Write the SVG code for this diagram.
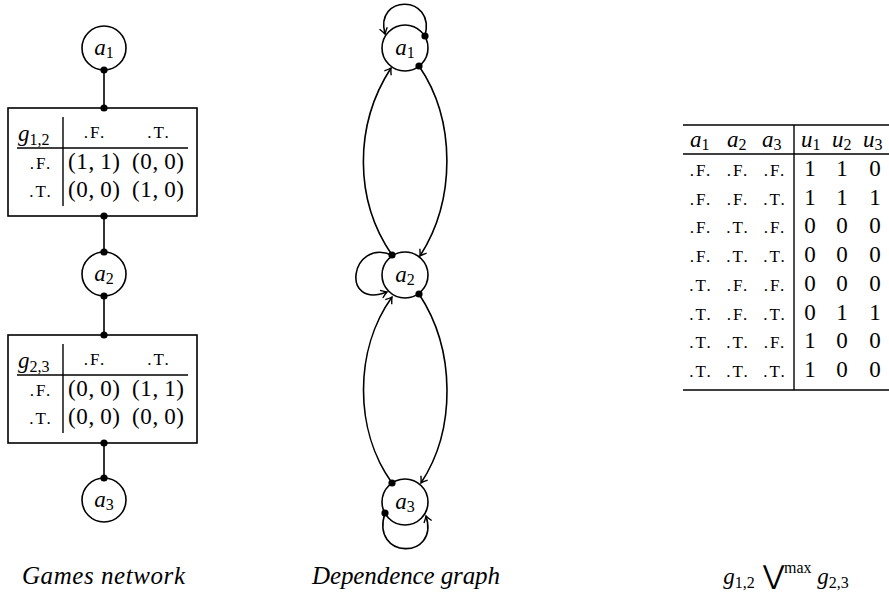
<svg xmlns="http://www.w3.org/2000/svg" width="889" height="596" viewBox="0 0 889 596">
<style>
  .bg { fill: #ffffff; }
  .node { fill: #ffffff; stroke: #000; stroke-width: 1.6; }
  .box { fill: #ffffff; stroke: #000; stroke-width: 1.6; }
  .rule { stroke: #000; stroke-width: 1.4; fill: none; }
  .trule { stroke: #000; stroke-width: 1.7; fill: none; }
  .edge { stroke: #000; stroke-width: 1.6; fill: none; }
  .arr { stroke: #000; stroke-width: 1.6; fill: none; marker-end: url(#arrow); }
  .dot { fill: #000; }
  .m { font-family: "Liberation Serif", "DejaVu Serif", serif; font-style: italic; font-size: 23px; fill: #000; }
  .sub { font-style: normal; font-size: 16px; }
  .r { font-family: "Liberation Serif", "DejaVu Serif", serif; font-size: 23px; fill: #000; }
  .lab { font-family: "Liberation Serif", "DejaVu Serif", serif; font-size: 17px; fill: #000; letter-spacing: 2px; }
  .cap { font-family: "Liberation Serif", "DejaVu Serif", serif; font-style: italic; font-size: 25px; fill: #000; }
</style>
<defs>
  <marker id="arrow" markerWidth="12" markerHeight="12" refX="0" refY="0" viewBox="-8 -6 10 12" orient="auto" markerUnits="userSpaceOnUse">
    <path d="M -6,-4 Q -2,-1 0,0 Q -2,1 -6,4" fill="none" stroke="#000" stroke-width="1.4"/>
  </marker>
</defs>
<rect class="bg" x="0" y="0" width="889" height="596"/>

<!-- ===== Games network ===== -->
<g id="games-network-connectors">
  <line class="edge" x1="104" y1="70" x2="104" y2="108"/>
  <line class="edge" x1="104" y1="216" x2="104" y2="252"/>
  <line class="edge" x1="104" y1="296" x2="104" y2="335"/>
  <line class="edge" x1="104" y1="443" x2="104" y2="478"/>
</g>
<g id="gn-a1">
  <circle class="node" cx="104" cy="48" r="22"/>
  <text class="m" x="104" y="55" text-anchor="middle">a<tspan class="sub" dy="3">1</tspan></text>
</g>
<g id="gn-g12">
  <rect class="box" x="8" y="108" width="189" height="108"/>
  <text class="m" x="18" y="141">g<tspan class="sub" dy="4">1,2</tspan></text>
  <line class="rule" x1="17" y1="148" x2="188" y2="148"/>
  <line class="rule" x1="63" y1="117" x2="63" y2="206"/>
  <text class="lab" x="95" y="138" text-anchor="middle">.F.</text>
  <text class="lab" x="159" y="138" text-anchor="middle">.T.</text>
  <text class="lab" x="41" y="169" text-anchor="middle">.F.</text>
  <text class="lab" x="41" y="197" text-anchor="middle">.T.</text>
  <text class="r" x="94" y="169" text-anchor="middle" textLength="52">(1,&#8201;1)</text>
  <text class="r" x="158" y="169" text-anchor="middle" textLength="52">(0,&#8201;0)</text>
  <text class="r" x="94" y="197" text-anchor="middle" textLength="52">(0,&#8201;0)</text>
  <text class="r" x="158" y="197" text-anchor="middle" textLength="52">(1,&#8201;0)</text>
</g>
<g id="gn-a2">
  <circle class="node" cx="104" cy="274" r="22"/>
  <text class="m" x="104" y="281" text-anchor="middle">a<tspan class="sub" dy="3">2</tspan></text>
</g>
<g id="gn-g23">
  <rect class="box" x="8" y="335" width="189" height="108"/>
  <text class="m" x="18" y="368">g<tspan class="sub" dy="4">2,3</tspan></text>
  <line class="rule" x1="17" y1="375" x2="188" y2="375"/>
  <line class="rule" x1="63" y1="344" x2="63" y2="433"/>
  <text class="lab" x="95" y="365" text-anchor="middle">.F.</text>
  <text class="lab" x="159" y="365" text-anchor="middle">.T.</text>
  <text class="lab" x="41" y="396" text-anchor="middle">.F.</text>
  <text class="lab" x="41" y="424" text-anchor="middle">.T.</text>
  <text class="r" x="94" y="396" text-anchor="middle" textLength="52">(0,&#8201;0)</text>
  <text class="r" x="158" y="396" text-anchor="middle" textLength="52">(1,&#8201;1)</text>
  <text class="r" x="94" y="424" text-anchor="middle" textLength="52">(0,&#8201;0)</text>
  <text class="r" x="158" y="424" text-anchor="middle" textLength="52">(0,&#8201;0)</text>
</g>
<g id="gn-a3">
  <circle class="node" cx="104" cy="500" r="22"/>
  <text class="m" x="104" y="507" text-anchor="middle">a<tspan class="sub" dy="3">3</tspan></text>
</g>
<g id="games-network-dots">
  <circle class="dot" cx="104" cy="70" r="3.6"/>
  <circle class="dot" cx="104" cy="108" r="3.6"/>
  <circle class="dot" cx="104" cy="216" r="3.6"/>
  <circle class="dot" cx="104" cy="252" r="3.6"/>
  <circle class="dot" cx="104" cy="296" r="3.6"/>
  <circle class="dot" cx="104" cy="335" r="3.6"/>
  <circle class="dot" cx="104" cy="443" r="3.6"/>
  <circle class="dot" cx="104" cy="478" r="3.6"/>
</g>

<!-- ===== Dependence graph ===== -->
<g id="dg-a1">
  <circle class="node" cx="405" cy="48" r="23"/>
  <text class="m" x="405" y="55" text-anchor="middle">a<tspan class="sub" dy="3">1</tspan></text>
</g>
<g id="dg-a2">
  <circle class="node" cx="405" cy="275" r="23"/>
  <text class="m" x="405" y="282" text-anchor="middle">a<tspan class="sub" dy="3">2</tspan></text>
</g>
<g id="dg-a3">
  <circle class="node" cx="405" cy="502" r="23"/>
  <text class="m" x="405" y="509" text-anchor="middle">a<tspan class="sub" dy="3">3</tspan></text>
</g>
<g id="dependence-connectors">
  <!-- a1 self loop -->
  <path class="arr" d="M 425,36 C 436,-6 374,-6 385,34"/>
  <!-- a1 -> a2 -->
  <path class="arr" d="M 419,66 C 456,120 456,200 420,256"/>
  <!-- a2 -> a1 -->
  <path class="arr" d="M 392,255 C 354,200 354,125 391,68"/>
  <!-- a2 self loop -->
  <path class="arr" d="M 392,255 C 350,238 340,310 387,292"/>
  <!-- a2 -> a3 -->
  <path class="arr" d="M 419,294 C 456,350 456,430 421,483"/>
  <!-- a3 -> a2 -->
  <path class="arr" d="M 392,483 C 354,430 354,350 392,297"/>
  <!-- a3 self loop -->
  <path class="arr" d="M 385,513 C 370,560 440,560 426,516"/>
  <circle class="dot" cx="425" cy="36" r="3.6"/>
  <circle class="dot" cx="419" cy="66" r="3.6"/>
  <circle class="dot" cx="392" cy="255" r="3.6"/>
  <circle class="dot" cx="419" cy="294" r="3.6"/>
  <circle class="dot" cx="392" cy="483" r="3.6"/>
  <circle class="dot" cx="385" cy="513" r="3.6"/>
</g>

<!-- ===== Max table ===== -->
<g id="max-table">
  <line class="trule" x1="683" y1="125" x2="889" y2="125"/>
  <line class="rule" x1="683" y1="154" x2="889" y2="154"/>
  <line class="trule" x1="683" y1="390" x2="889" y2="390"/>
  <line class="rule" x1="794" y1="125" x2="794" y2="390"/>
  <text class="m" x="690" y="147">a<tspan class="sub" dy="3">1</tspan></text>
  <text class="m" x="727" y="147">a<tspan class="sub" dy="3">2</tspan></text>
  <text class="m" x="762" y="147">a<tspan class="sub" dy="3">3</tspan></text>
  <text class="m" x="801" y="147">u<tspan class="sub" dy="3">1</tspan></text>
  <text class="m" x="832" y="147">u<tspan class="sub" dy="3">2</tspan></text>
  <text class="m" x="863" y="147">u<tspan class="sub" dy="3">3</tspan></text>
  <g class="lab" text-anchor="middle">
    <text x="701" y="176">.F.</text><text x="738" y="176">.F.</text><text x="775" y="176">.F.</text>
    <text x="701" y="205">.F.</text><text x="738" y="205">.F.</text><text x="775" y="205">.T.</text>
    <text x="701" y="233">.F.</text><text x="738" y="233">.T.</text><text x="775" y="233">.F.</text>
    <text x="701" y="262">.F.</text><text x="738" y="262">.T.</text><text x="775" y="262">.T.</text>
    <text x="701" y="291">.T.</text><text x="738" y="291">.F.</text><text x="775" y="291">.F.</text>
    <text x="701" y="320">.T.</text><text x="738" y="320">.F.</text><text x="775" y="320">.T.</text>
    <text x="701" y="348">.T.</text><text x="738" y="348">.T.</text><text x="775" y="348">.F.</text>
    <text x="701" y="377">.T.</text><text x="738" y="377">.T.</text><text x="775" y="377">.T.</text>
  </g>
  <g class="r" text-anchor="middle">
    <text x="810" y="176">1</text><text x="842" y="176">1</text><text x="875" y="176">0</text>
    <text x="810" y="205">1</text><text x="842" y="205">1</text><text x="875" y="205">1</text>
    <text x="810" y="233">0</text><text x="842" y="233">0</text><text x="875" y="233">0</text>
    <text x="810" y="262">0</text><text x="842" y="262">0</text><text x="875" y="262">0</text>
    <text x="810" y="291">0</text><text x="842" y="291">0</text><text x="875" y="291">0</text>
    <text x="810" y="320">0</text><text x="842" y="320">1</text><text x="875" y="320">1</text>
    <text x="810" y="348">1</text><text x="842" y="348">0</text><text x="875" y="348">0</text>
    <text x="810" y="377">1</text><text x="842" y="377">0</text><text x="875" y="377">0</text>
  </g>
</g>

<!-- ===== Captions ===== -->
<text class="cap" x="22" y="584" textLength="163">Games network</text>
<text class="cap" x="312" y="584" textLength="188">Dependence graph</text>
<text class="m" x="786" y="584" text-anchor="middle">g<tspan class="sub" dy="4">1,2</tspan><tspan dy="-4" font-style="normal" font-family="DejaVu Serif, serif" font-size="26"> ⋁</tspan><tspan class="sub" font-size="14" dy="-11">max</tspan><tspan dy="11"> g</tspan><tspan class="sub" dy="4">2,3</tspan></text>
</svg>
